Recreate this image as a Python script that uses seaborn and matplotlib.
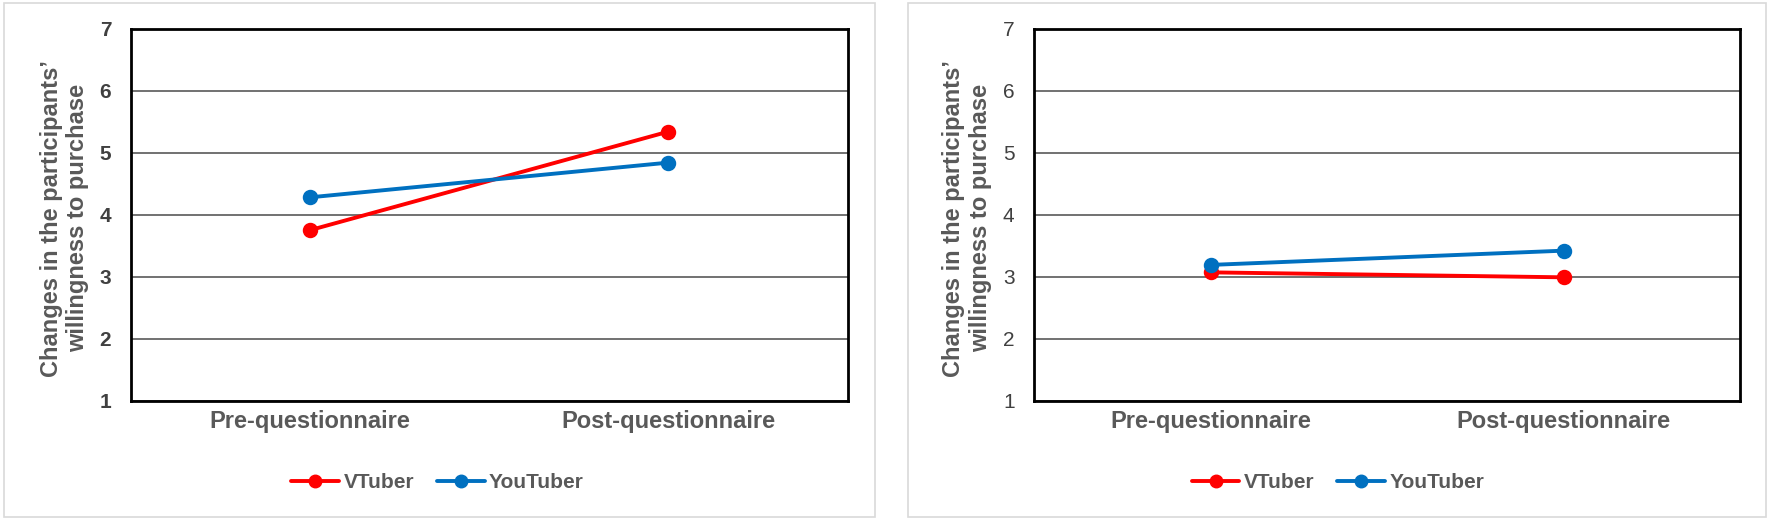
import matplotlib
matplotlib.use("Agg")
import matplotlib.pyplot as plt
from matplotlib.patches import Rectangle
from matplotlib.lines import Line2D
import seaborn as sns
import pandas as pd

# ---- data ----
times = ["Pre-questionnaire", "Post-questionnaire"]
groups = ["VTuber", "YouTuber"]
left_vtuber = [3.75, 5.34]
left_youtuber = [4.28, 4.84]
right_vtuber = [3.07, 2.99]
right_youtuber = [3.19, 3.42]
y_ticks = [1, 2, 3, 4, 5, 6, 7]
y_label = "Changes in the participants’\nwillingness to purchase"
colors = {"VTuber": "#FF0000", "YouTuber": "#0070C0"}


def long_df(v, y):
    rows = []
    for t, a, b in zip(times, v, y):
        rows.append({"time": t, "group": "VTuber", "score": a})
        rows.append({"time": t, "group": "YouTuber", "score": b})
    return pd.DataFrame(rows)


sns.set_theme(style="white")
plt.rcParams["font.family"] = ["Liberation Sans", "DejaVu Sans"]

fig = plt.figure(figsize=(17.72, 5.24), dpi=100)
fig.patch.set_facecolor("white")

W, H = 1772.0, 524.0
# panel borders
for (x0, x1) in [(4, 875), (908, 1766)]:
    fig.patches.append(Rectangle((x0 / W, 1 - 517 / H), (x1 - x0) / W, (517 - 3) / H,
                                 transform=fig.transFigure, fill=False,
                                 edgecolor="#D9D9D9", linewidth=1.2, zorder=0))

panels = [
    dict(v=left_vtuber, y=left_youtuber, left=130.6, right=847.6,
         bold_y=True, ylab_x=-0.092, leg_x=0.247),
    dict(v=right_vtuber, y=right_youtuber, left=1034, right=1740,
         bold_y=False, ylab_x=-0.095, leg_x=0.755),
]

top, bottom = 28.7, 400.7
text_gray = "#595959"

for p in panels:
    ax = fig.add_axes([p["left"] / W, 1 - bottom / H, (p["right"] - p["left"]) / W, (bottom - top) / H])
    df = long_df(p["v"], p["y"])
    sns.pointplot(data=df, x="time", y="score", hue="group", order=times, hue_order=groups,
                  palette=colors, markers="o", linestyles="-", errorbar=None,
                  markersize=9, linewidth=2.8, ax=ax, zorder=3)
    ax.set_xlim(-0.5, 1.5)
    ax.set_ylim(1, 7)
    ax.set_yticks(y_ticks)
    ax.set_yticklabels([str(t) for t in y_ticks])
    ax.yaxis.grid(True, color="#595959", linewidth=1.2)
    ax.xaxis.grid(False)
    ax.set_axisbelow(True)
    for s in ax.spines.values():
        s.set_visible(True)
        s.set_color("black")
        s.set_linewidth(2.0)
        s.set_zorder(4)
    ax.tick_params(axis="both", length=0)
    ax.tick_params(axis="y", pad=14, labelsize=15, labelcolor="#404040")
    ax.tick_params(axis="x", pad=7, labelsize=17, labelcolor=text_gray)
    for lab in ax.get_xticklabels():
        lab.set_fontweight("bold")
    for lab in ax.get_yticklabels():
        lab.set_fontweight("bold" if p["bold_y"] else "normal")
    ax.set_xlabel("")
    ax.set_ylabel(y_label, fontsize=17, fontweight="bold", color=text_gray, va="center",
                  linespacing=1.2)
    ax.yaxis.set_label_coords(p["ylab_x"], 0.49)
    if ax.get_legend() is not None:
        ax.get_legend().remove()
    handles = [Line2D([0], [0], color=colors[g], linewidth=2.8, marker="o", markersize=9)
               for g in groups]
    fig.legend(handles, groups, loc="center", bbox_to_anchor=(p["leg_x"], 1 - 483 / H),
               ncol=2, frameon=False, handlelength=2.3, handletextpad=0.2, columnspacing=1.1,
               prop={"size": 15, "weight": "bold"}, labelcolor=text_gray)

fig.savefig("out.png", dpi=100, facecolor="white")
